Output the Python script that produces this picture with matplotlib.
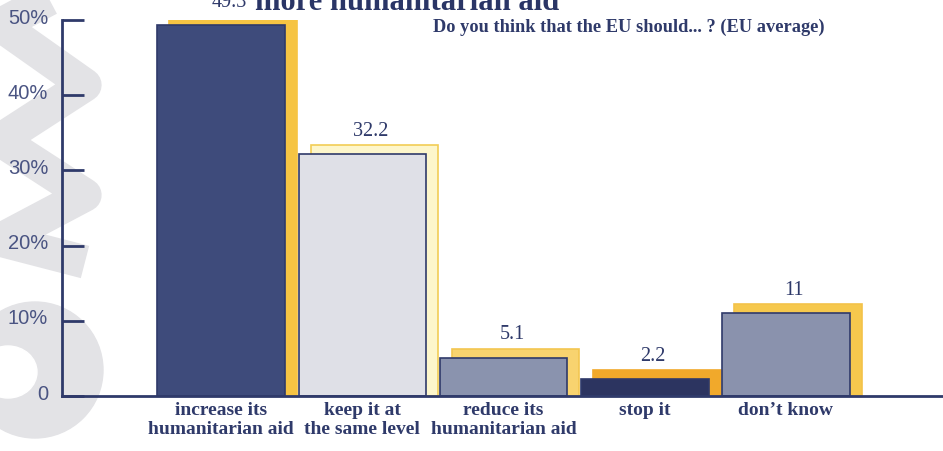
import numpy as np
import matplotlib
matplotlib.use("Agg")
import matplotlib.pyplot as plt
from matplotlib.patches import Circle, Ellipse
from matplotlib.transforms import ScaledTranslation

# Data
categories = ["increase its\nhumanitarian aid", "keep it at\nthe same level",
              "reduce its\nhumanitarian aid", "stop it", "don\u2019t know"]
values = [49.3, 32.2, 5.1, 2.2, 11]
value_labels = ["49.3", "32.2", "5.1", "2.2", "11"]
yticks = [0, 10, 20, 30, 40, 50]
ytick_labels = ["0", "10%", "20%", "30%", "40%", "50%"]

navy = "#2f3a6a"
bar_colors = ["#3e4b7b", "#dfe0e7", "#8a93ae", "#2c3460", "#8a92ad"]
shadow_colors = ["#f6c443", "#fdf6cb", "#f8d36f", "#f1a92b", "#f6c84d"]
shadow_edges = ["#f6c443", "#f2cd55", "#f3c650", "#f1a92b", "#f3c24a"]
wm_grey = "#e3e3e6"

serif = ["Liberation Serif", "DejaVu Serif"]
sans = ["Liberation Sans", "DejaVu Sans"]

fig = plt.figure(figsize=(9.43, 4.51), dpi=100)

# faint watermark on the left (decoration, in pixel coords)
bg = fig.add_axes([0, 0, 1, 1], zorder=0)
bg.set_xlim(0, 943)
bg.set_ylim(451, 0)
bg.axis("off")
bg.plot([85, 0, 85, 0, 85, 0, 85], [-20, 25, 85, 140, 195, 240, 262],
        color=wm_grey, lw=24, solid_joinstyle="round", solid_capstyle="butt")
bg.add_patch(Circle((35, 370), 68, color=wm_grey))
bg.add_patch(Ellipse((8, 372), 58, 52, color="white"))

ax = fig.add_axes([62 / 943, 1 - 396 / 451, 1 - 62 / 943, (396 - 20) / 451], zorder=1)
ax.patch.set_alpha(0)

x = np.arange(len(values))
w = 0.905
dx, dy = 0.085, 1.2

# yellow "shadow" blocks behind each bar
ax.bar(x + dx, np.array(values) + dy, width=w, color=shadow_colors,
       edgecolor=shadow_edges, linewidth=1.2, zorder=1)
ax.bar(x, values, width=w, color=bar_colors, edgecolor=navy, linewidth=1.2, zorder=2)

for xi, v, lab in zip(x, values, value_labels):
    ax.annotate(lab, (xi + 0.06, v + dy), xytext=(0, 3), textcoords="offset points",
                ha="center", va="bottom", fontsize=14.5, family=serif,
                color=navy, annotation_clip=False)

ax.set_xlim(-1.128, 5.113)
ax.set_ylim(0, 50)

for s in ["top", "right"]:
    ax.spines[s].set_visible(False)
ax.spines["left"].set_color(navy)
ax.spines["bottom"].set_color(navy)
ax.spines["left"].set_linewidth(2)
ax.spines["bottom"].set_linewidth(2)

ax.set_yticks(yticks)
ax.set_yticklabels(ytick_labels, family=sans, fontsize=14.5, color="#4a5482")
ax.tick_params(axis="y", direction="in", length=16, width=2, color=navy, pad=10)
for lab in ax.get_yticklabels():
    lab.set_transform(lab.get_transform() + ScaledTranslation(0, 4 / 100, fig.dpi_scale_trans))
ax.set_xticks(x)
ax.set_xticklabels(categories, family=serif, fontweight="bold", fontsize=14,
                   color=navy, linespacing=1.2)
ax.tick_params(axis="x", length=0, pad=4)

fig.text(433 / 943, 1 - 27 / 451, "Do you think that the EU should... ? (EU average)",
         family=serif, fontweight="bold", fontsize=13.2, color=navy,
         ha="left", va="center")
fig.text(255 / 943, 1 - 10 / 451, "more humanitarian aid", family=serif,
         fontweight="bold", fontsize=22, color="#2a3566", ha="left", va="baseline")

fig.savefig("out.png", dpi=100)
